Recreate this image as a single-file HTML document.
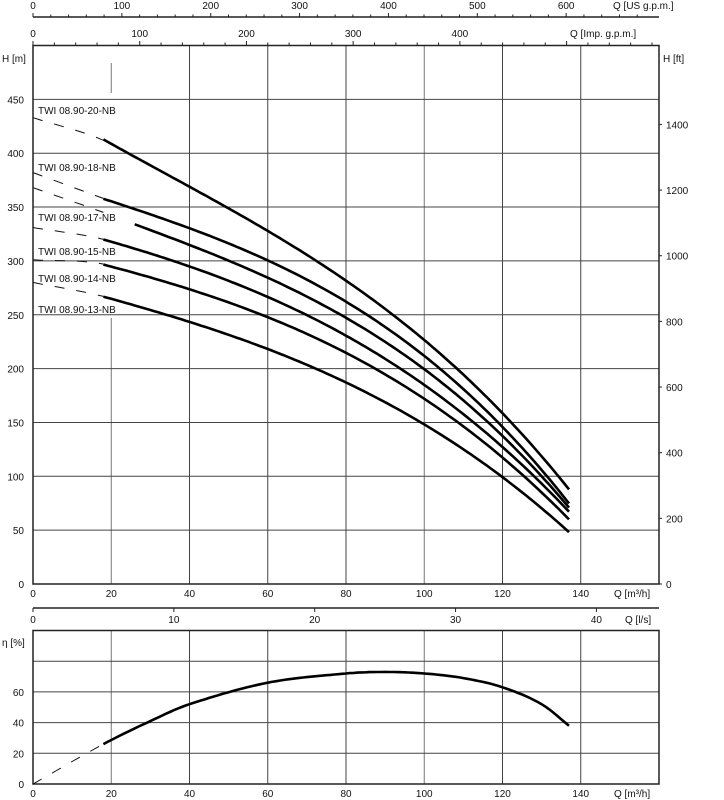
<!DOCTYPE html>
<html><head><meta charset="utf-8">
<style>
html,body{margin:0;padding:0;background:#fff;}
svg{display:block;font-family:"Liberation Sans","DejaVu Sans",sans-serif;}
text{font-size:10px;fill:#111;}
</style></head>
<body>
<svg id="chart" width="724" height="800" viewBox="0 0 724 800" xmlns="http://www.w3.org/2000/svg"></svg>
<script>
const qSamples = [0, 18, 40, 60, 80, 100, 120, 137];
const curveNames = ["TWI 08.90-20-NB","TWI 08.90-18-NB","TWI 08.90-17-NB","TWI 08.90-15-NB","TWI 08.90-14-NB","TWI 08.90-13-NB"];
const head20 = [433, 412, 371, 327, 280, 227, 160, 87];
const head18 = [382, 358, 330, 299, 264, 213, 143, 76];
const head17 = [368, 345, 315, 282, 250, 200, 135, 72];
const head15 = [331, 320, 295, 265, 232, 186, 125, 68];
const head14 = [301, 297, 273, 247, 216, 173, 115, 61];
const head13 = [280, 267, 243, 218, 187, 150, 97, 49];
const heads = [head20, head18, head17, head15, head14, head13];
const labelY = [110, 167, 217, 251, 278, 309];
const effQ = [0, 18, 30, 40, 60, 80, 90, 100, 110, 120, 130, 137];
const effVals = [0, 26, 41, 52, 66, 72, 73, 72, 69, 63, 52, 38];
const qTicks = [0,20,40,60,80,100,120,140];
const hTicks = [0,50,100,150,200,250,300,350,400,450];
const ftTicks = [0,200,400,600,800,1000,1200,1400];
const usTicks = [0,100,200,300,400,500,600];
const impTicks = [0,100,200,300,400];
const lsTicks = [0,10,20,30,40];
const effTicks = [0,20,40,60];

const NS="http://www.w3.org/2000/svg";
const svg=document.getElementById('chart');
const X0=33, X1=659, QMAX=160;
const MY0=584, MY1=45.5, HMAX=500;
const EY0=784, EY1=630.5, EMAX=100;
function xq(q){return X0+(X1-X0)*q/QMAX;}
function yh(h){return MY0-(MY0-MY1)*h/HMAX;}
function ye(e){return EY0-(EY0-EY1)*e/EMAX;}
function el(tag,attrs,parent){const e=document.createElementNS(NS,tag);for(const k in attrs)e.setAttribute(k,attrs[k]);(parent||svg).appendChild(e);return e;}
function line(x1,y1,x2,y2,stroke,w,name){const e=el('line',{x1,y1,x2,y2,stroke,'stroke-width':w});


return e;}
function txt(x,y,s,anchor,name){const e=el('text',{x,y,'text-anchor':anchor||'start'});e.textContent=s;


return e;}

// least-squares cubic fit for smooth curves
function fitCubic(qs,vs){const n=4;const A=[];for(let i=0;i<n;i++){A.push(new Array(n+1).fill(0));}
 for(let k=0;k<qs.length;k++){const t=qs[k]/100;const p=[1,t,t*t,t*t*t];
  for(let i=0;i<n;i++){for(let j=0;j<n;j++)A[i][j]+=p[i]*p[j];A[i][n]+=p[i]*vs[k];}}
 for(let i=0;i<n;i++){let m=i;for(let r=i+1;r<n;r++)if(Math.abs(A[r][i])>Math.abs(A[m][i]))m=r;[A[i],A[m]]=[A[m],A[i]];
  for(let r=0;r<n;r++){if(r===i)continue;const f=A[r][i]/A[i][i];for(let c=i;c<=n;c++)A[r][c]-=f*A[i][c];}}
 const c=A.map((row,i)=>row[n]/row[i]);
 return q=>{const t=q/100;return c[0]+c[1]*t+c[2]*t*t+c[3]*t*t*t;};}
function fitPath(f,yf,from,to){let d='';for(let q=from;q<=to+0.001;q+=1){d+=(d?'L':'M')+xq(q).toFixed(1)+','+yf(f(q)).toFixed(1);}return d;}
function interpPath(qs,vs,yf,from,to){let d='';for(let q=from;q<=to+0.001;q+=1){let i=0;while(i<qs.length-2&&q>qs[i+1])i++;
 const q0=qs[i],q1=qs[i+1];const t=(q-q0)/(q1-q0);
 const m=(k)=>{const a=Math.max(0,k-1),b=Math.min(qs.length-1,k+1);return (vs[b]-vs[a])/(qs[b]-qs[a]);};
 const h=q1-q0;const t2=t*t,t3=t2*t;
 const v=(2*t3-3*t2+1)*vs[i]+(t3-2*t2+t)*h*m(i)+(-2*t3+3*t2)*vs[i+1]+(t3-t2)*h*m(i+1);
 d+=(d?'L':'M')+xq(q).toFixed(1)+','+yf(v).toFixed(1);}
 return d;}

// top US gpm axis
line(X0,17,X1,17,'#222',1.5,'us-gpm-axis-line');
for(let g=0;g<=680;g+=20){const x=xq(g*0.22712);if(x>X1)break;line(x,17,x,g%100===0?13:14.5,'#222',1,'us-gpm-tick');}
usTicks.forEach(g=>txt(xq(g*0.22712),9,String(g),'middle','us-gpm-tick-label'));
txt(613,9,'Q [US g.p.m.]','start','us-gpm-axis-title');
// imp gpm axis
for(let g=0;g<=580;g+=20){const x=xq(g*0.27277);if(x>X1)break;line(x,45,x,g%100===0?41:42.5,'#222',1,'imp-gpm-tick');}
impTicks.forEach(g=>txt(xq(g*0.27277),37,String(g),'middle','imp-gpm-tick-label'));
txt(570,37,'Q [Imp. g.p.m.]','start','imp-gpm-axis-title');

// main grid
qTicks.forEach(q=>{if(q===0)return;const x=xq(q);
 if(q===20){line(x,63,x,93,'#777',1,'grid-vertical');line(x,318,x,MY0,'#777',1,'grid-vertical');}
 else line(x,MY1,x,MY0,(q===100)?'#777':'#444',1,'grid-vertical');});
hTicks.forEach(h=>{if(h===0)return;line(X0,yh(h),X1,yh(h),'#444',1,'grid-horizontal');});
const fr=el('rect',{x:X0,y:MY1,width:X1-X0,height:MY0-MY1,fill:'none',stroke:'#222','stroke-width':1.5});


hTicks.forEach(h=>txt(24,yh(h)+4,String(h),'end','h-m-tick-label'));
txt(2,62,'H [m]','start','h-m-axis-title');
ftTicks.forEach(f=>{const y=yh(f*0.3048);line(X1,y,X1+3,y,'#222',1,'ft-tick');txt(666,y+4,String(f),'start','h-ft-tick-label');});
txt(663,62,'H [ft]','start','h-ft-axis-title');
qTicks.forEach(q=>txt(xq(q),597,String(q),'middle','q-m3h-tick-label'));
txt(614,597,'Q [m³/h]','start','q-m3h-axis-title');

// curves
heads.forEach((hs,k)=>{
 const f=fitCubic(qSamples.slice(1),hs.slice(1));
 const dash=el('path',{d:interpPath(qSamples.slice(0,3),hs.slice(0,3),yh,0,18),fill:'none',stroke:'#111','stroke-width':1,'stroke-dasharray':'10,12'});
 
 
 const p=el('path',{d:fitPath(f,yh,k===2?26:18,137),fill:'none',stroke:'#000','stroke-width':2.6});
 
 
 txt(38,labelY[k]+4,curveNames[k],'start','curve-label');
});

// l/s axis
line(X0,608,X1,608,'#222',1.5,'ls-axis-line');
lsTicks.forEach(l=>{const x=xq(l*3.6);line(x,608,x,612,'#222',1,'ls-tick');txt(x,623,String(l),'middle','ls-tick-label');});
txt(625,623,'Q [l/s]','start','ls-axis-title');

// efficiency plot
qTicks.forEach(q=>{if(q===0)return;line(xq(q),EY1,xq(q),EY0,(q===20||q===100)?'#777':'#444',1,'eff-grid-vertical');});
[20,40,60,80].forEach(e=>line(X0,ye(e),X1,ye(e),'#444',1,'eff-grid-horizontal'));
const fr2=el('rect',{x:X0,y:EY1,width:X1-X0,height:EY0-EY1,fill:'none',stroke:'#222','stroke-width':1.5});


effTicks.forEach(e=>txt(24,ye(e)+4,String(e),'end','eff-tick-label'));
txt(2,646,'η [%]','start','eff-axis-title');
qTicks.forEach(q=>txt(xq(q),797,String(q),'middle','eff-q-tick-label'));
txt(614,797,'Q [m³/h]','start','eff-q-axis-title');
const ed=el('path',{d:interpPath(effQ,effVals,ye,0,18),fill:'none',stroke:'#111','stroke-width':1,'stroke-dasharray':'10,12'});


const ep=el('path',{d:interpPath(effQ,effVals,ye,18,137),fill:'none',stroke:'#000','stroke-width':2.6});


</script>
</body></html>
